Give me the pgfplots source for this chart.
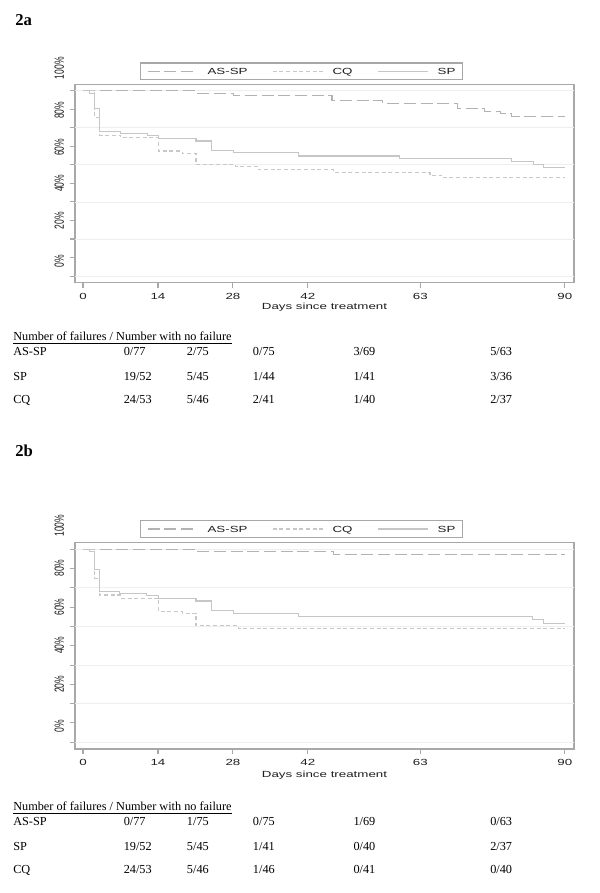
\documentclass[border=0pt]{standalone}
\usepackage{pgfplots}
\pgfplotsset{compat=1.18}
\usepackage{fontspec}
\setmainfont{Liberation Serif}
\newfontfamily\chartfont{Liberation Sans}
\usepackage{graphicx}

\definecolor{framegray}{RGB}{168,168,168}
\definecolor{gridgray}{RGB}{238,238,238}
\definecolor{asspcol}{RGB}{178,178,178}
\definecolor{cqcol}{RGB}{200,200,200}
\definecolor{spcol}{RGB}{198,198,198}
\definecolor{txtcol}{RGB}{30,30,30}

\newcommand\sq[1]{\scalebox{1}[0.667]{#1}}
\newcommand\sqy[1]{\scalebox{0.64}[1]{#1}}

\pgfplotsset{
  kmaxis/.style={
    scale only axis, width=374.25pt,
    xmin=-1.5, xmax=91.7,
    axis line style={framegray, line width=1.1pt},
    xtick={0,14,28,42,63,90},
    xticklabels={\sq{0},\sq{14},\sq{28},\sq{42},\sq{63},\sq{90}},
    xticklabel style={font=\chartfont\fontsize{10}{10}\selectfont, text=txtcol, inner sep=0pt, anchor=center, yshift=-6.5pt},
    ytick={0,10,...,100},
    yticklabels={,,,,,,,,,,},
    extra y ticks={0,20,...,100},
    extra y tick labels={,,,,,},
    extra y tick style={grid=major, major grid style={gridgray, line width=0.6pt}},
    tick align=outside, tick pos=left,
    major tick length=3.6pt,
    every tick/.style={framegray, line width=0.8pt},
    xlabel={\sq{Days since treatment}},
    xlabel style={font=\chartfont\fontsize{10}{10}\selectfont, text=txtcol, at={(axis description cs:0.5,0)}, anchor=center, inner sep=0pt},
    clip=false,
    legend columns=3,
    legend cell align=left,
    legend style={anchor=south west, draw=framegray, line width=0.9pt, fill=white,
      inner xsep=5pt, inner ysep=2.8pt,
      font=\chartfont\fontsize{10}{10}\selectfont, text=txtcol,
      nodes={inner sep=0pt, text height=6pt, text depth=0.6pt},
      /tikz/every odd column/.append style={column sep=7pt},
      /tikz/every even column/.append style={column sep=18.5pt}},
    legend image code/.code={\draw[#1, line width=0.8pt] (0pt,0pt) -- (37.5pt,0pt);},
  },
  assp/.style={const plot, asspcol, line width=0.8pt, dash pattern=on 9pt off 3.5pt},
  cq/.style={const plot, cqcol, line width=0.8pt, dash pattern=on 3pt off 2pt},
  sp/.style={const plot, spcol, line width=0.8pt},
}
\tikzset{ylab/.style={xshift=-11.8pt, rotate=90, anchor=center, inner sep=0pt,
  font=\chartfont\fontsize{10}{10}\selectfont, text=txtcol}}

\begin{document}
\begin{tikzpicture}
\useasboundingbox (0,0) rectangle (450pt,-669.75pt);

% ---------------- Panel 2a ----------------
\begin{axis}[kmaxis, at={(56.25pt,-63.225pt)}, anchor=north west,
  height=148.8pt, ymin=-3.6, ymax=103.5,
  xlabel style={yshift=-18pt},
  legend style={at={(axis description cs:0.130,1.022)}}]
\addplot[assp] coordinates {(0,100) (21.1,98.7) (28.1,97.4) (46.5,94.7) (56,93.3) (70,90.6) (75,89.0) (78,87.8) (80,86.3) (90,86.3)};
\addlegendentry{\sq{AS-SP}}
\addplot[cq] coordinates {(0,100) (2.2,85.4) (3.1,76.1) (7,74.6) (14.1,67.5) (18.5,66.2) (21.1,60.3) (28.5,59.0) (32.8,57.4) (46.8,56.0) (64.8,54.5) (67,53.0) (90,53.0)};
\addlegendentry{\sq{CQ}}
\addplot[sp] coordinates {(0,100) (1.2,98.6) (2.1,90.5) (3.1,78.2) (7,77.0) (12,75.7) (14.1,74.3) (21.1,72.9) (24,68.0) (28.1,66.7) (40.2,64.8) (59.1,63.5) (80,61.7) (84.1,60.0) (86,58.7) (90,58.7)};
\addlegendentry{\sq{SP}}
\node[ylab] at (axis cs:-1.5,112.2) {\sqy{100\%}};
\node[ylab] at (axis cs:-1.5,89.5) {\sqy{80\%}};
\node[ylab] at (axis cs:-1.5,69.5) {\sqy{60\%}};
\node[ylab] at (axis cs:-1.5,50) {\sqy{40\%}};
\node[ylab] at (axis cs:-1.5,29.8) {\sqy{20\%}};
\node[ylab] at (axis cs:-1.5,8) {\sqy{0\%}};
\end{axis}

% ---------------- Panel 2b ----------------
\begin{axis}[kmaxis, at={(56.25pt,-406.725pt)}, anchor=north west,
  height=155.0pt, ymin=-3.5, ymax=103.6,
  xlabel style={yshift=-19.5pt},
  legend style={at={(axis description cs:0.130,1.022)}}]
\addplot[assp] coordinates {(0,100) (21.1,98.7) (46.8,97.4) (90,97.4)};
\addlegendentry{\sq{AS-SP}}
\addplot[cq] coordinates {(0,100) (2.2,85.0) (3.1,76.3) (7,74.7) (14.1,67.7) (18.5,66.8) (21.1,60.3) (29,58.7) (90,58.7)};
\addlegendentry{\sq{CQ}}
\addplot[sp] coordinates {(0,100) (1.2,98.7) (2.1,89.5) (3.1,78.2) (6.8,77.3) (11.9,75.8) (14.1,74.6) (21.1,73.2) (24,68.2) (28.1,66.5) (40.2,65.1) (84,63.4) (86,61.7) (90,61.7)};
\addlegendentry{\sq{SP}}
\node[ylab] at (axis cs:-1.5,112.2) {\sqy{100\%}};
\node[ylab] at (axis cs:-1.5,90.2) {\sqy{80\%}};
\node[ylab] at (axis cs:-1.5,70) {\sqy{60\%}};
\node[ylab] at (axis cs:-1.5,50.2) {\sqy{40\%}};
\node[ylab] at (axis cs:-1.5,30) {\sqy{20\%}};
\node[ylab] at (axis cs:-1.5,8.4) {\sqy{0\%}};
\end{axis}

% ---------------- Panel labels and tables ----------------
\begin{scope}[x=0.75pt,y=-0.75pt]
\node[anchor=base west, inner sep=0pt, font=\fontsize{12.5}{12.5}\selectfont\bfseries] at (15,25) {2a};
\node[anchor=base west, inner sep=0pt, font=\fontsize{12.5}{12.5}\selectfont\bfseries] at (15,456) {2b};

\tikzset{tb/.style={anchor=base west, inner sep=0pt, font=\fontsize{9.2}{9.2}\selectfont}}
% table 2a
\node[tb] at (13,340.8) {\underline{Number of failures / Number with no failure}};
\foreach \yy/\lab/\a/\b/\c/\d/\e in {355.7/AS-SP/0\slash77/2\slash75/0\slash75/3\slash69/5\slash63,
                                     380.7/SP/19\slash52/5\slash45/1\slash44/1\slash41/3\slash36,
                                     403.3/CQ/24\slash53/5\slash46/2\slash41/1\slash40/2\slash37}{
  \node[tb] at (13,\yy) {\lab};
  \node[tb] at (123.5,\yy) {\a};
  \node[tb] at (186.7,\yy) {\b};
  \node[tb] at (252.7,\yy) {\c};
  \node[tb] at (353.3,\yy) {\d};
  \node[tb] at (490,\yy) {\e};
}
% table 2b
\node[tb] at (13,810.8) {\underline{Number of failures / Number with no failure}};
\foreach \yy/\lab/\a/\b/\c/\d/\e in {825.7/AS-SP/0\slash77/1\slash75/0\slash75/1\slash69/0\slash63,
                                     850.7/SP/19\slash52/5\slash45/1\slash41/0\slash40/2\slash37,
                                     873.3/CQ/24\slash53/5\slash46/1\slash46/0\slash41/0\slash40}{
  \node[tb] at (13,\yy) {\lab};
  \node[tb] at (123.5,\yy) {\a};
  \node[tb] at (186.7,\yy) {\b};
  \node[tb] at (252.7,\yy) {\c};
  \node[tb] at (353.3,\yy) {\d};
  \node[tb] at (490,\yy) {\e};
}
\end{scope}
\end{tikzpicture}
\end{document}
